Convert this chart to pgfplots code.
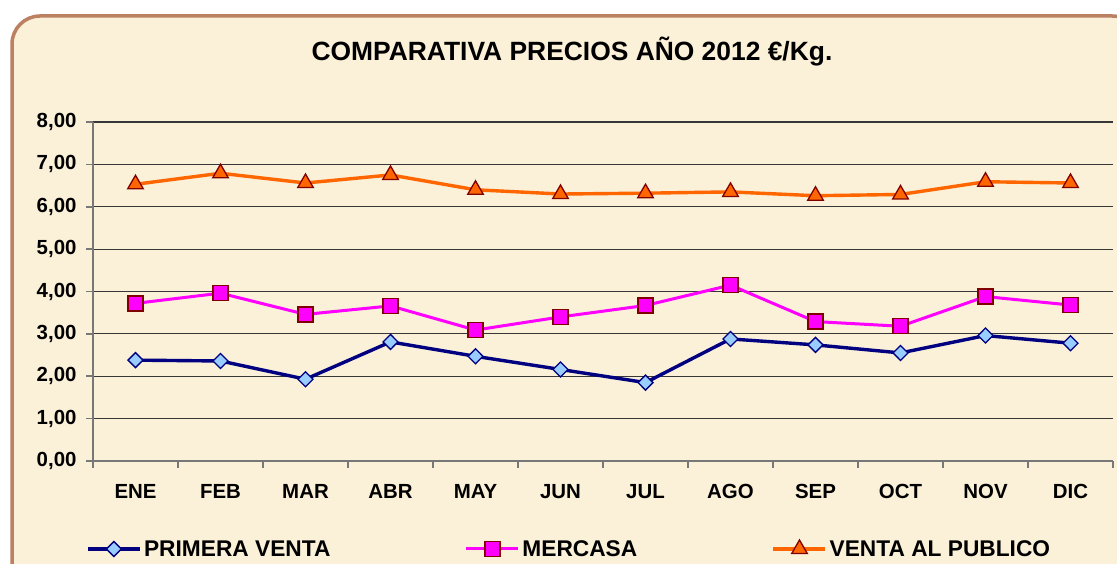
\documentclass[border=0pt]{standalone}
\usepackage{pgfplots}
\pgfplotsset{compat=1.18}
\usepackage{fontspec}
\setmainfont{Liberation Sans}
\definecolor{parch}{RGB}{251,240,216}
\definecolor{frameb}{RGB}{188,128,98}
\definecolor{navyl}{RGB}{0,0,128}
\definecolor{lblue}{RGB}{153,204,255}
\definecolor{mag}{RGB}{255,0,255}
\definecolor{dred}{RGB}{128,0,0}
\definecolor{orng}{RGB}{255,102,0}
\definecolor{gridc}{RGB}{55,55,55}
\definecolor{axc}{RGB}{120,120,120}
\begin{document}
\begin{tikzpicture}[x=1bp,y=1bp]
\path[use as bounding box] (0,0) rectangle (1117,564);
\begin{scope}
\clip (0,0) rectangle (1117,564);
\fill[white] (0,0) rectangle (1117,564);
\draw[frameb, line width=3.5bp, fill=parch, rounded corners=28bp] (12,-30) rectangle (1140,548);
\end{scope}
\node[font=\bfseries\fontsize{26.5}{31}\selectfont] at (572,512) {COMPARATIVA PRECIOS AÑO 2012 €/Kg.};
\begin{axis}[
  at={(93bp,103bp)}, anchor=south west,
  scale only axis, width=1020bp, height=339bp,
  xmin=-0.5, xmax=11.5, ymin=0, ymax=8,
  axis x line*=bottom, axis y line*=left,
  axis line style={axc, line width=1.6bp},
  xtick={0,...,11},
  xticklabels={ENE,FEB,MAR,ABR,MAY,JUN,JUL,AGO,SEP,OCT,NOV,DIC},
  minor xtick={-0.5,0.5,...,11.5},
  ytick={0,1,...,8},
  tick align=outside,
  major tick length=7bp, minor tick length=7bp,
  x tick style={draw=none},
  minor x tick style={draw=axc, line width=1.6bp},
  y tick style={draw=axc, line width=1.6bp},
  ymajorgrids,
  major grid style={gridc, line width=1.2bp},
  /pgf/number format/.cd, fixed, fixed zerofill, precision=2, use comma, assume math mode=true,
  /pgfplots/.cd,
  ticklabel style={font=\bfseries\fontsize{20.5}{24}\selectfont, text=black},
  xticklabel style={yshift=-13bp},
  yticklabel style={xshift=-6bp},
  legend columns=3,
  legend style={draw=none, fill=none, at={(-0.0098,-0.2596)}, anchor=west,
    font=\bfseries\fontsize{22.8}{27}\selectfont,
    /tikz/every even column/.append style={column sep=132bp},
    nodes={inner xsep=2.5bp}},
  legend image code/.code={\draw[mark repeat=2, mark phase=2, #1] plot coordinates {(0bp,0bp) (26bp,0bp) (52bp,0bp)};},
]
\addplot[navyl, line width=3.4bp, mark=diamond*, mark size=7.5bp,
  mark options={fill=lblue, draw=navyl, line width=1.3bp, xscale=1.33}]
  coordinates {(0,2.38) (1,2.36) (2,1.93) (3,2.81) (4,2.47) (5,2.16) (6,1.85) (7,2.88) (8,2.74) (9,2.55) (10,2.96) (11,2.78)};
\addlegendentry{PRIMERA VENTA}
\addplot[mag, line width=3bp, mark=square*, mark size=7.5bp,
  mark options={fill=mag, draw=dred, line width=1.3bp}]
  coordinates {(0,3.72) (1,3.96) (2,3.46) (3,3.66) (4,3.09) (5,3.40) (6,3.67) (7,4.15) (8,3.29) (9,3.18) (10,3.88) (11,3.68)};
\addlegendentry{MERCASA}
\addplot[orng, line width=3.4bp, mark=triangle*, mark size=9bp,
  mark options={fill=orng, draw=dred, line width=1.3bp}]
  coordinates {(0,6.53) (1,6.79) (2,6.56) (3,6.75) (4,6.40) (5,6.30) (6,6.32) (7,6.35) (8,6.26) (9,6.29) (10,6.59) (11,6.56)};
\addlegendentry{VENTA AL PUBLICO}
\end{axis}
\end{tikzpicture}
\end{document}
